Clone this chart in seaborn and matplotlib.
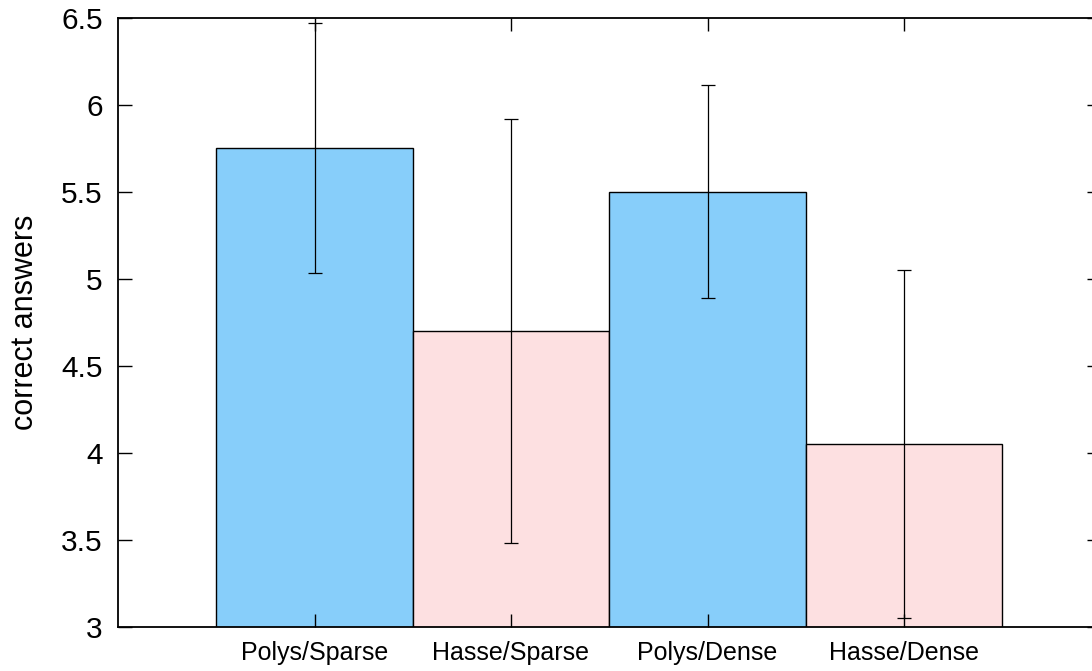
import matplotlib
matplotlib.use("Agg")
import matplotlib.pyplot as plt
import seaborn as sns
import pandas as pd

# Mean number of correct answers per condition, with error bar extents
conditions = ["Polys/Sparse", "Hasse/Sparse", "Polys/Dense", "Hasse/Dense"]
means = [5.75, 4.70, 5.50, 4.05]
err_low = [5.03, 3.48, 4.89, 3.05]
err_high = [6.47, 5.92, 6.11, 5.05]
y_ticks = [3, 3.5, 4, 4.5, 5, 5.5, 6, 6.5]
y_tick_labels = ["3", "3.5", "4", "4.5", "5", "5.5", "6", "6.5"]

bar_colors = ["#87CEFA", "#FDE0E1", "#87CEFA", "#FDE0E1"]

sns.set_theme(style="ticks")
plt.rcParams["font.family"] = ["Liberation Sans", "DejaVu Sans"]
plt.rcParams["text.color"] = "black"
plt.rcParams["axes.labelcolor"] = "black"

df = pd.DataFrame({"condition": conditions, "mean": means})

W, H = 1092, 671
fig = plt.figure(figsize=(W / 100, H / 100), dpi=100)
left_px, right_px, top_px, bottom_px = 118, 1100.5, 17.5, 627
ax = fig.add_axes([left_px / W, 1 - bottom_px / H,
                   (right_px - left_px) / W, (bottom_px - top_px) / H])

sns.barplot(data=df, x="condition", y="mean", hue="condition",
            palette=bar_colors, width=1.0, errorbar=None, legend=False,
            edgecolor="black", linewidth=1.0, saturation=1.0, ax=ax)

yerr = [[m - lo for m, lo in zip(means, err_low)],
        [hi - m for m, hi in zip(means, err_high)]]
ax.errorbar(range(len(conditions)), means, yerr=yerr, fmt="none",
            ecolor="black", elinewidth=0.9, capsize=5, capthick=0.9, zorder=3)

ax.set_xlim(-1, 4)
ax.set_ylim(3, 6.5)
ax.set_yticks(y_ticks)
ax.set_yticklabels(y_tick_labels)
ax.set_xlabel("")
ax.set_ylabel("correct answers", fontsize=22, labelpad=15, color="black")

for side in ["top", "bottom", "left", "right"]:
    ax.spines[side].set_visible(True)
    ax.spines[side].set_linewidth(1.3)
    ax.spines[side].set_color("black")

ax.set_axisbelow(False)
ax.tick_params(axis="y", which="both", direction="in", length=10, width=1.0,
               left=True, right=True, labelsize=21.5, pad=11, colors="black")
ax.tick_params(axis="x", which="both", direction="in", length=9.5, width=1.0,
               bottom=True, top=True, labelsize=18, pad=10, colors="black")
ax.grid(False)

fig.savefig("out.png", dpi=100)
